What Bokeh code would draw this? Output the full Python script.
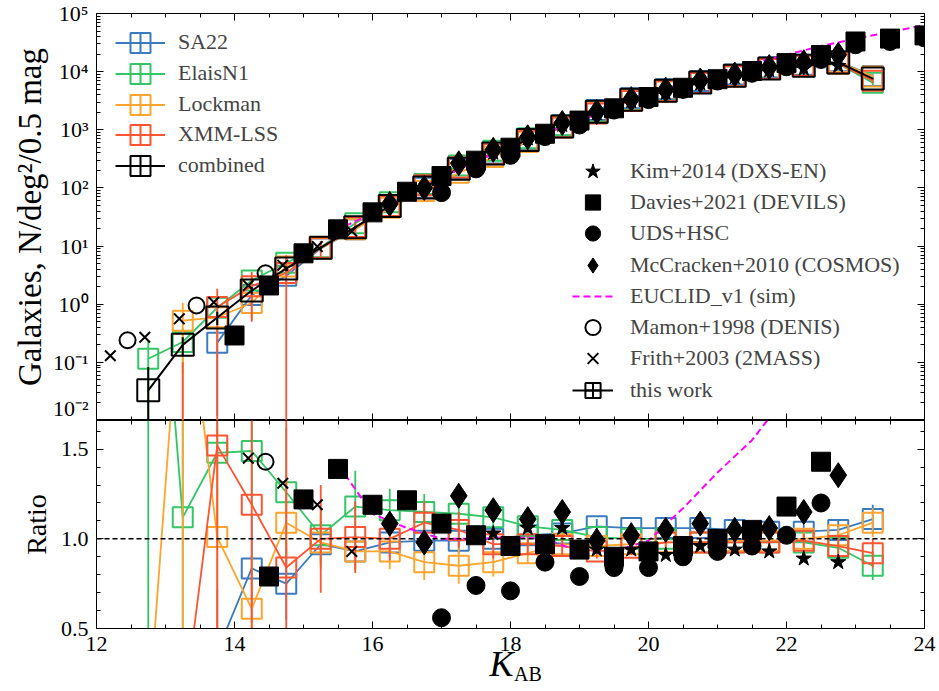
import math
from bokeh.plotting import figure
from bokeh.layouts import column
from bokeh.models import (Legend, LegendItem, LinearAxis, LogAxis, FixedTicker,
                          CustomJSTickFormatter, PrintfTickFormatter, Span,
                          ColumnDataSource, Range1d)
from bokeh.embed import file_html
from bokeh.resources import INLINE

NAN = float("nan")

# ---------------- data ----------------
K_BINS = [12.75, 13.25, 13.75, 14.25, 14.75, 15.25, 15.75, 16.25, 16.75, 17.25, 17.75,
          18.25, 18.75, 19.25, 19.75, 20.25, 20.75, 21.25, 21.75, 22.25, 22.75, 23.25]

COMBINED = [0.033, 0.20, 0.59, 1.72, 4.1, 9.4, 21, 49, 102, 214, 390,
            670, 1140, 2050, 3300, 4700, 6500, 8500, 11300, 12600, 14400, 7600]
COMBINED_ERR = [0.05, 0.07, 0.15, 0.25, 0.4, 0.6, 1.0, 1.5, 2.5, 4, 6,
                9, 14, 20, 30, 40, 50, 60, 80, 100, 150, 200]

# ratio of each field to the combined counts
SA22_RATIO = [NAN, NAN, 0.37, 0.835, 0.75, 0.97, 0.93, 0.98, 0.99, 0.99, 1.00,
              1.02, 1.03, 1.07, 1.06, 1.06, 1.06, 1.05, 1.04, 1.04, 1.05, 1.11]
SA22_ERR = [NAN, NAN, 0.35, 0.30, 0.20, 0.12, 0.10, 0.08, 0.08, 0.07, 0.06,
            0.05, 0.04, 0.04, 0.03, 0.03, 0.03, 0.03, 0.03, 0.04, 0.05, 0.08]
ELAIS_RATIO = [3.5, 1.12, 1.48, 1.49, 1.26, 1.02, 1.18, 1.16, 1.15, 1.14, 1.12,
               1.07, 1.05, 1.01, 1.00, 1.00, 0.98, 0.98, 0.98, 0.98, 0.95, 0.85]
ELAIS_ERR = [3.6, 0.80, 0.50, 0.30, 0.36, 0.15, 0.20, 0.12, 0.10, 0.10, 0.08,
             0.06, 0.05, 0.04, 0.04, 0.03, 0.03, 0.03, 0.03, 0.04, 0.05, 0.08]
LOCKMAN_RATIO = [0.0, 2.6, 1.01, 0.61, 1.09, 0.98, 0.93, 0.93, 0.87, 0.85, 0.87,
                 0.92, 0.97, 0.96, 0.97, 0.98, 0.98, 0.99, 0.99, 1.00, 1.02, 1.09]
LOCKMAN_ERR = [0.30, 2.7, 0.60, 0.30, 0.25, 0.15, 0.10, 0.10, 0.10, 0.10, 0.08,
               0.06, 0.05, 0.04, 0.04, 0.03, 0.03, 0.03, 0.03, 0.04, 0.05, 0.08]
XMM_RATIO = [NAN, 0.0, 1.52, 1.19, 0.84, 1.00, 1.01, 1.00, 1.09, 1.05, 0.97,
             0.97, 0.96, 0.93, 0.95, 0.98, 0.98, 0.98, 0.98, 0.99, 0.96, 0.92]
XMM_ERR = [NAN, 0.50, 1.60, 0.90, 0.85, 0.30, 0.20, 0.12, 0.12, 0.10, 0.08,
           0.06, 0.05, 0.04, 0.04, 0.03, 0.03, 0.03, 0.03, 0.04, 0.05, 0.08]

# literature
KIM_K = [17.75, 18.25, 18.75, 19.25, 19.75, 20.25, 20.75, 21.25, 21.75, 22.25, 22.75]
KIM_N = [402, 710, 1208, 1927, 3102, 4277, 6240, 7990, 10510, 11210, 12530]
KIM_RATIO = [1.03, 1.06, 1.06, 0.94, 0.94, 0.91, 0.96, 0.94, 0.93, 0.89, 0.87]

DAVIES_K = [14.0, 14.5, 15.0, 15.5, 16.0, 16.5, 17.0, 17.5, 18.0, 18.5, 19.0, 19.5,
            20.0, 20.5, 21.0, 21.5, 22.0, 22.5, 23.0, 23.5, 24.0]
DAVIES_N = [0.29, 2.1, 7.5, 19.4, 38, 86, 160, 294, 492, 855, 1440, 2340,
            3660, 5280, 7410, 10260, 14030, 19290, 33000, 37000, 42000]
DAVIES_RATIO = [0.25, 0.79, 1.22, 1.39, 1.19, 1.215, 1.085, 1.02, 0.96, 0.97, 0.94, 0.90,
                0.93, 0.96, 1.00, 1.05, 1.18, 1.43, 3.2, 3.8, 4.2]

UDS_K = [17.0, 17.5, 18.0, 18.5, 19.0, 19.5, 20.0, 20.5, 21.0, 21.5, 22.0, 22.5, 23.0, 23.5, 24.0]
UDS_N = [83, 213, 364, 766, 1210, 2184, 3306, 4950, 6890, 9380, 12130, 16190, 29000, 33000, 38000]
UDS_RATIO = [0.56, 0.74, 0.71, 0.87, 0.79, 0.84, 0.84, 0.90, 0.93, 0.96, 1.02, 1.20, 2.8, 3.4, 3.8]

MCC_K = [16.25, 16.75, 17.25, 17.75, 18.25, 18.75, 19.25, 19.75, 20.25, 20.75, 21.25, 21.75, 22.25, 22.75]
MCC_N = [53, 100, 265, 452, 744, 1311, 2030, 3366, 4890, 7050, 8925, 11980, 14490, 19510]
MCC_RATIO = [1.085, 0.98, 1.24, 1.16, 1.11, 1.15, 0.99, 1.02, 1.05, 1.085, 1.05, 1.06, 1.15, 1.355]

EUC_K = [15.6, 16.0, 16.5, 17.0, 17.5, 18.0, 18.5, 19.0, 19.5, 20.0, 20.5, 21.0,
         21.5, 22.0, 22.5, 23.0, 23.5, 24.0]
EUC_N = [22, 36.5, 75, 148, 288, 518, 881, 1424, 2418, 3900, 6490, 9800,
         14000, 19500, 27500, 37000, 48000, 63000]
EUC_RATIO = [1.36, 1.14, 1.06, 1.00, 1.00, 1.01, 1.00, 0.93, 0.93, 0.99, 1.17, 1.37,
             1.55, 1.80, 2.2, 2.9, 3.6, 4.5]

MAMON_K = [12.45, 13.45, 14.45]
MAMON_N = [0.24, 0.95, 3.4]
MAMON_RATIO = [4.0, 3.0, 1.43]

FRITH_K = [12.2, 12.7, 13.2, 13.7, 14.2, 14.7, 15.2, 15.7]
FRITH_N = [0.13, 0.27, 0.56, 1.08, 2.1, 4.7, 9.8, 18]
FRITH_RATIO = [6.0, 6.0, 3.5, 2.0, 1.45, 1.31, 1.19, 0.93]

FIELDS = [("SA22", "#3a7bbf", SA22_RATIO, SA22_ERR),
          ("ElaisN1", "#33c566", ELAIS_RATIO, ELAIS_ERR),
          ("Lockman", "#ffa42e", LOCKMAN_RATIO, LOCKMAN_ERR),
          ("XMM-LSS", "#ff5431", XMM_RATIO, XMM_ERR)]

FONT = "Liberation Serif"
TICK_FS = "22px"
NBSP = "\u00a0"

blank_fmt = CustomJSTickFormatter(code='return "";')

# ---------------- helpers ----------------
def style_axis(ax, labels=True):
    ax.major_tick_in = 7
    ax.major_tick_out = 0
    ax.minor_tick_in = 4
    ax.minor_tick_out = 0
    ax.axis_line_color = "black"
    ax.major_tick_line_color = "black"
    ax.minor_tick_line_color = "black"
    ax.major_label_text_font = FONT
    ax.major_label_text_color = "black"
    ax.major_label_text_font_size = TICK_FS
    if labels:
        ax.major_label_standoff = 8
    else:
        ax.formatter = blank_fmt
        ax.major_label_standoff = 0
    ax.axis_label_text_font = FONT
    ax.axis_label_text_font_style = "normal"
    ax.axis_label_text_color = "black"


X_TICKS = FixedTicker(ticks=[12, 14, 16, 18, 20, 22, 24],
                      minor_ticks=[12 + 0.5 * i for i in range(25)])
LOG_TICKS = FixedTicker(ticks=[10.0 ** e for e in range(-2, 6)],
                        minor_ticks=[m * 10.0 ** e for e in range(-2, 5) for m in range(2, 10)])
R_TICKS = FixedTicker(ticks=[0.5, 1.0, 1.5],
                      minor_ticks=[0.5 + 0.1 * i for i in range(12)])

sup_fmt = CustomJSTickFormatter(code="""
const e = Math.round(Math.log10(tick));
const m = {"-": "\u207b", "0": "\u2070", "1": "\u00b9", "2": "\u00b2", "3": "\u00b3",
           "4": "\u2074", "5": "\u2075", "6": "\u2076", "7": "\u2077", "8": "\u2078", "9": "\u2079"};
return "10" + String(e).split("").map(c => m[c]).join("");
""")

# ---------------- top panel ----------------
top = figure(frame_width=828, frame_height=407, y_axis_type="log",
             x_range=Range1d(12, 24), y_range=Range1d(1e-2, 1e5),
             min_border_left=96, min_border_right=15, min_border_top=13, min_border_bottom=0,
             output_backend="svg", toolbar_location=None, background_fill_color="white",
             border_fill_color="white", outline_line_color="black")
top.grid.visible = False

top.xaxis.ticker = X_TICKS
top.xaxis.fixed_location = 1e-2
style_axis(top.xaxis[0], labels=False)
top.yaxis.ticker = LOG_TICKS
style_axis(top.yaxis[0])
top.yaxis.formatter = sup_fmt
top.yaxis.axis_label = "Galaxies, N/deg\u00b2/0.5 mag"
top.yaxis.axis_label_text_font_size = "33px"
top.yaxis.axis_label_standoff = 2

ax_r = LogAxis(ticker=LOG_TICKS, fixed_location=24)
style_axis(ax_r, labels=False)
top.add_layout(ax_r, "right")
ax_t = LinearAxis(ticker=X_TICKS, fixed_location=1e5)
style_axis(ax_t, labels=False)
top.add_layout(ax_t, "above")

# ---------------- bottom panel ----------------
bot = figure(frame_width=828, frame_height=208, x_range=top.x_range,
             y_range=Range1d(0.5, 1.66),
             min_border_left=96, min_border_right=15, min_border_top=0, min_border_bottom=63,
             output_backend="svg", toolbar_location=None, background_fill_color="white",
             border_fill_color="white", outline_line_color="black")
bot.grid.visible = False
bot.xaxis.ticker = X_TICKS
style_axis(bot.xaxis[0])
bot.xaxis.axis_label = "K" + NBSP * 2
bot.xaxis.axis_label_text_font_size = "36px"
bot.xaxis.axis_label_text_font_style = "italic"
bot.xaxis.axis_label_standoff = -10
bot.yaxis.ticker = R_TICKS
style_axis(bot.yaxis[0])
bot.yaxis.formatter = PrintfTickFormatter(format="%.1f")
bot.yaxis.axis_label = "Ratio"
bot.yaxis.axis_label_text_font_size = "28px"
bot.yaxis.axis_label_standoff = 6

# subscript "AB" of the x label: label of a tick-less second axis below the first
ab_axis = LinearAxis(ticker=FixedTicker(ticks=[], minor_ticks=[]),
                     axis_label=NBSP * 7 + "AB")
style_axis(ab_axis, labels=False)
ab_axis.axis_line_alpha = 0
ab_axis.major_tick_in = 0
ab_axis.minor_tick_in = 0
ab_axis.axis_label_text_font_size = "20px"
ab_axis.axis_label_standoff = -24
bot.add_layout(ab_axis, "below")

ax_r2 = LinearAxis(ticker=R_TICKS, fixed_location=24)
style_axis(ax_r2, labels=False)
bot.add_layout(ax_r2, "right")
ax_t2 = LinearAxis(ticker=X_TICKS, fixed_location=1.66)
style_axis(ax_t2, labels=False)
bot.add_layout(ax_t2, "above")

bot.add_layout(Span(location=1.0, dimension="width", line_color="black",
                    line_dash="5 3", line_width=1.5))

# ---------------- fields ----------------
field_entries = []
for name, color, ratio, err in FIELDS:
    kk, nn, lo, hi, rr, rlo, rhi = [], [], [], [], [], [], []
    for k, c, r, e in zip(K_BINS, COMBINED, ratio, err):
        if math.isnan(r):
            continue
        rr.append(r)
        rlo.append(r - e)
        rhi.append(r + e)
        kk.append(k)
        if r > 0:
            v = r * c
            nn.append(v)
            lo.append(max(v - e * c, 1e-4))
            hi.append(v + e * c)
        else:
            nn.append(NAN)
            lo.append(1e-4)
            hi.append(max(e * c, 1e-4))
    src = ColumnDataSource(dict(k=kk, n=nn, lo=lo, hi=hi, r=rr, rlo=rlo, rhi=rhi))
    top.segment(x0="k", x1="k", y0="lo", y1="hi", source=src, line_color=color, line_width=1.8)
    ln = top.line(x="k", y="n", source=src, line_color=color, line_width=1.8)
    top.scatter(x="k", y="n", source=src, marker="square", size=20, fill_alpha=0,
                line_color=color, line_width=2)
    bot.segment(x0="k", x1="k", y0="rlo", y1="rhi", source=src, line_color=color, line_width=1.8)
    bot.line(x="k", y="r", source=src, line_color=color, line_width=1.8)
    bot.scatter(x="k", y="r", source=src, marker="square", size=20, fill_alpha=0,
                line_color=color, line_width=2)
    dummy = top.scatter(x=[NAN], y=[NAN], marker="square_cross", fill_alpha=0,
                        line_color=color, line_width=2, size=20)
    field_entries.append((name, [ln, dummy]))

comb_src = ColumnDataSource(dict(k=K_BINS, n=COMBINED,
                                 lo=[max(n - e, 1e-4) for n, e in zip(COMBINED, COMBINED_ERR)],
                                 hi=[n + e for n, e in zip(COMBINED, COMBINED_ERR)]))
top.segment(x0="k", x1="k", y0="lo", y1="hi", source=comb_src, line_color="black", line_width=2)
comb_line = top.line(x="k", y="n", source=comb_src, line_color="black", line_width=2)
top.scatter(x="k", y="n", source=comb_src, marker="square", size=22, fill_alpha=0,
            line_color="black", line_width=2)
comb_dummy = top.scatter(x=[NAN], y=[NAN], marker="square_cross", fill_alpha=0,
                         line_color="black", line_width=2, size=20)
field_entries.append(("combined", [comb_line, comb_dummy]))

# ---------------- literature ----------------
def lit(k, n, r, **kw):
    s = ColumnDataSource(dict(k=k, n=n, r=r))
    rend = top.scatter(x="k", y="n", source=s, **kw)
    bot.scatter(x="k", y="r", source=s, **kw)
    return rend

euc_src = ColumnDataSource(dict(k=EUC_K, n=EUC_N, r=EUC_RATIO))
euc_r = top.line(x="k", y="n", source=euc_src, line_color="#ff00ff", line_width=2, line_dash="7 4")
bot.line(x="k", y="r", source=euc_src, line_color="#ff00ff", line_width=2, line_dash="7 4")

kim_r = lit(KIM_K, KIM_N, KIM_RATIO, marker="star", size=16, color="black")
dav_r = lit(DAVIES_K, DAVIES_N, DAVIES_RATIO, marker="square", size=19, color="black")
uds_r = lit(UDS_K, UDS_N, UDS_RATIO, marker="circle", size=18, color="black")
mcc_r = lit(MCC_K, MCC_N, MCC_RATIO, marker="diamond", size=25, color="black")
mam_r = lit(MAMON_K, MAMON_N, MAMON_RATIO, marker="circle", size=16, fill_alpha=0,
            line_color="black", line_width=2)
fri_r = lit(FRITH_K, FRITH_N, FRITH_RATIO, marker="x", size=15, line_color="black", line_width=2)

this_dummy = top.scatter(x=[NAN], y=[NAN], marker="square_cross", fill_alpha=0,
                         line_color="black", line_width=2, size=15)

# ---------------- legends (one small legend per entry) ----------------
FRAME_LEFT, FRAME_BOTTOM = 96, 420

def add_entry(label, renderers, glyph_left, yc, gw, gh, standoff):
    leg = Legend(items=[LegendItem(label=label, renderers=renderers)],
                 location=(glyph_left - FRAME_LEFT, FRAME_BOTTOM - yc - gh / 2),
                 glyph_width=gw, glyph_height=gh, padding=0, margin=0, spacing=0,
                 label_standoff=standoff, label_text_font=FONT, label_text_font_size="22px",
                 background_fill_alpha=0, border_line_alpha=0)
    top.add_layout(leg, "center")

LEG1_Y = [42, 73, 104, 134, 165]
for (name, rends), yc in zip(field_entries, LEG1_Y):
    add_entry(name, rends, 115, yc, 50, 55, 13)

LEG2 = [("Kim+2014 (DXS-EN)", [kim_r]),
        ("Davies+2021 (DEVILS)", [dav_r]),
        ("UDS+HSC", [uds_r]),
        ("McCracken+2010 (COSMOS)", [mcc_r]),
        ("EUCLID_v1 (sim)", [euc_r]),
        ("Mamon+1998 (DENIS)", [mam_r]),
        ("Frith+2003 (2MASS)", [fri_r]),
        ("this work", [comb_line, this_dummy])]
LEG2_Y = [171, 202, 233, 265, 296, 327, 358, 390]
for (name, rends), yc in zip(LEG2, LEG2_Y):
    add_entry(name, rends, 572, yc, 41, 38, 17)

layout = column(top, bot, spacing=0)
open("out.html", "w").write(file_html(layout, INLINE))
